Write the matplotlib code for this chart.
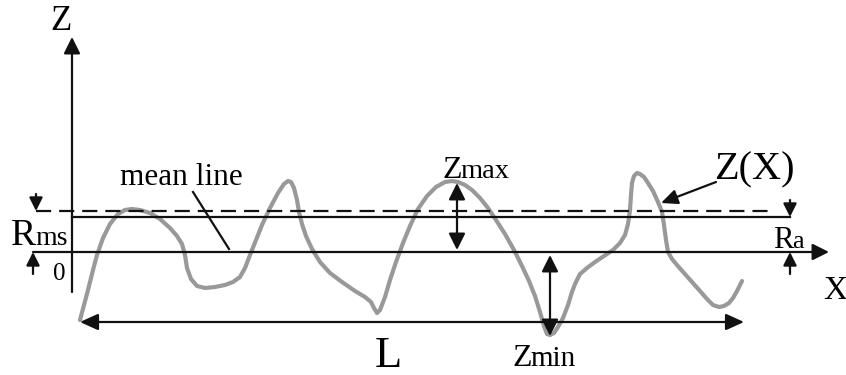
import numpy as np
import matplotlib.pyplot as plt
from matplotlib.patches import FancyArrowPatch

plt.rcParams['font.family'] = ['Liberation Serif', 'DejaVu Serif']

# origin of the sketch (pixel position of z axis / mean line) -- values below are relative to it
X0, Z0 = 72, 252

# roughness profile z(x) (pixel units)
px = [80, 84, 88, 93, 97, 103, 110, 118, 125, 132, 140, 150, 160, 170, 177, 182, 185, 187,
      191, 197, 205, 215, 225, 233, 240, 245, 250, 256, 262, 270, 278, 284, 288, 291, 294,
      297, 299, 302, 306, 312, 320, 330, 342, 355, 365, 371, 374, 377, 380, 385, 390, 396,
      403, 410, 418, 427, 436, 445, 452, 458, 465, 472, 480, 488, 496, 505, 514, 522, 529,
      535, 540, 544, 547, 550, 554, 558, 563, 568, 572, 575, 580, 587, 595, 604, 613, 620,
      625, 628, 630, 631, 632, 634, 637, 640, 644, 648, 653, 658, 662, 664, 666, 668, 672,
      677, 684, 692, 700, 707, 713, 719, 724, 729, 733, 737, 742]
pz = [320, 305, 290, 270, 255, 238, 224, 214, 210, 209, 210, 213, 219, 228, 236, 244, 255, 268,
      279, 286, 288, 287, 285, 282, 277, 268, 255, 240, 225, 208, 193, 184, 181, 182, 188,
      200, 212, 224, 236, 249, 262, 273, 282, 291, 297, 302, 308, 313, 310, 297, 280, 262,
      243, 226, 209, 196, 187, 182, 181, 182, 185, 190, 198, 208, 220, 234, 250, 266, 281,
      296, 312, 326, 334, 335, 333, 327, 318, 305, 292, 284, 274, 268, 262, 256, 250, 243,
      235, 224, 210, 195, 183, 176, 173, 174, 177, 183, 191, 202, 212, 225, 240, 252, 259,
      265, 273, 282, 291, 299, 305, 307, 306, 303, 298, 291, 281]
x_prof = np.array(px) - X0
z_prof = Z0 - np.array(pz)

# reference lines (heights relative to mean line, z up)
z_dash = Z0 - 211     # Rms level
z_ra = Z0 - 217       # Ra level
z_L = Z0 - 322        # sampling length arrow

fig = plt.figure(figsize=(8.46, 3.75), dpi=100)
ax = fig.add_axes([0, 0, 1, 1])
ax.set_xlim(-X0, 846 - X0)
ax.set_ylim(Z0 - 375, Z0)
ax.axis('off')

lw = 1.6
black = '#111111'


def arrow(p0, p1, style='-|>', hl=9, hw=4.5):
    a = FancyArrowPatch(p0, p1, arrowstyle=f'{style},head_length={hl},head_width={hw}',
                        color=black, lw=lw, shrinkA=0, shrinkB=0, mutation_scale=1)
    ax.add_patch(a)


# big letter followed by smaller letters on the same baseline (Rms, Zmax, ...)
def label(x, y, big, small, s_big, s_small):
    t = ax.text(x, y, big, fontsize=s_big, ha='left', va='baseline')
    r = fig.canvas.get_renderer()
    x1 = ax.transData.inverted().transform(t.get_window_extent(r))[1, 0]
    ax.text(x1 - 1, y, small, fontsize=s_small, ha='left', va='baseline')


# profile
ax.plot(x_prof, z_prof, color='#999999', lw=3.0, solid_joinstyle='round',
        solid_capstyle='round', zorder=1)

# mean line / x axis and z axis
arrow((33 - X0, 0), (829 - X0, 0), hl=10, hw=5)
arrow((0, Z0 - 292), (0, Z0 - 37), hl=10, hw=5)

# Rms dashed line and Ra line
ax.plot([36 - X0, 770 - X0], [z_dash, z_dash], color=black, lw=lw, dashes=(6.8, 3.6))
ax.plot([0, 790 - X0], [z_ra, z_ra], color=black, lw=lw)

# small arrows marking Rms and Ra
arrow((36 - X0, Z0 - 194), (36 - X0, z_dash), hl=8, hw=4)
arrow((33 - X0, Z0 - 274), (33 - X0, 0), hl=8, hw=4)
arrow((790 - X0, Z0 - 200), (790 - X0, z_ra), hl=8, hw=4)
arrow((790 - X0, Z0 - 274), (790 - X0, 0), hl=8, hw=4)

# Zmax, Zmin, L
arrow((457 - X0, Z0 - 250), (457 - X0, Z0 - 183), style='<|-|>', hl=10, hw=5)
arrow((550 - X0, Z0 - 336), (550 - X0, Z0 - 255), style='<|-|>', hl=10, hw=5)
arrow((80 - X0, z_L), (744 - X0, z_L), style='<|-|>', hl=11, hw=5)

# leaders
ax.plot([193 - X0, 229 - X0], [Z0 - 192, Z0 - 249], color=black, lw=lw)
arrow((716 - X0, Z0 - 182), (661 - X0, Z0 - 203), hl=10, hw=4.5)

# labels
ax.text(61 - X0, Z0 - 22, 'Z', fontsize=25, ha='center', va='center')
ax.text(835 - X0, Z0 - 291, 'X', fontsize=24, ha='center', va='center')
ax.text(181 - X0, Z0 - 185, 'mean line', fontsize=22.5, ha='center', va='baseline')
ax.text(59 - X0, Z0 - 274, '0', fontsize=18, ha='center', va='center')
label(11 - X0, Z0 - 245, 'R', 'ms', 27, 20)
label(773 - X0, Z0 - 248, 'R', 'a', 22, 19)
label(442 - X0, Z0 - 178, 'Z', 'max', 23, 20.5)
label(512 - X0, Z0 - 366, 'Z', 'min', 23, 21)
ax.text(388 - X0, Z0 - 367, 'L', fontsize=32, ha='center', va='baseline')
ax.text(754 - X0, Z0 - 170, 'Z(X)', fontsize=29, ha='center', va='center')

fig.savefig('out.png', dpi=100)
